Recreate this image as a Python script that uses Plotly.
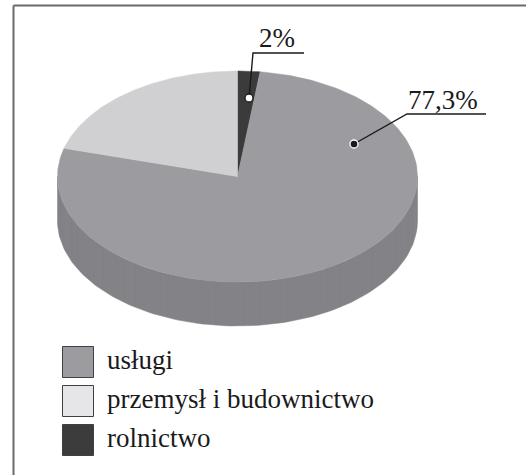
import numpy as np
import plotly.graph_objects as go

# ---- data ----
categories = ["usługi", "przemysł i budownictwo", "rolnictwo"]
values = [77.3, 20.7, 2.0]
label_texts = ["77,3%", None, "2%"]
# drawing order of slices, clockwise from 12 o'clock
slice_order = ["rolnictwo", "usługi", "przemysł i budownictwo"]

# ---- styles ----
top_colors = {"usługi": "#9c9ca0", "przemysł i budownictwo": "#d0d0d2", "rolnictwo": "#3b3b3b"}
side_colors = {"usługi": "#838387", "przemysł i budownictwo": "#b4b4b6", "rolnictwo": "#2c2c2c"}
legend_colors = {"usługi": "#9c9ca0", "przemysł i budownictwo": "#e6e6e8", "rolnictwo": "#3c3c3c"}

W, H = 526, 475
CX, CY, RX, RY, DEPTH = 237.5, 176.5, 180.0, 105.5, 44.0
FONT = "Liberation Serif, Times New Roman, serif"

fig = go.Figure()

def pt(a_deg, dy=0.0):
    a = np.radians(a_deg)
    return CX + RX * np.cos(a), CY - RY * np.sin(a) + dy

vals = dict(zip(categories, values))
total = sum(values)
start = 90.0
spans = {}
for c in slice_order:
    sweep = vals[c] / total * 360.0
    spans[c] = (start, start - sweep)
    start -= sweep

# side walls (only the front half is visible)
for c in slice_order:
    a0, a1 = spans[c]
    segs = []
    lo, hi = max(min(a0, a1), -180.0), min(max(a0, a1), 0.0)
    if hi > lo:
        segs.append((lo, hi))
    lo2, hi2 = max(min(a0, a1), 180.0), min(max(a0, a1), 360.0)
    if hi2 > lo2:
        segs.append((lo2, hi2))
    for lo_, hi_ in segs:
        angs = np.linspace(lo_, hi_, 120)
        xs_t, ys_t = pt(angs)
        xs_b, ys_b = pt(angs[::-1], DEPTH)
        fig.add_trace(go.Scatter(
            x=np.concatenate([xs_t, xs_b, xs_t[:1]]),
            y=np.concatenate([ys_t, ys_b, ys_t[:1]]),
            mode="lines", fill="toself", fillcolor=side_colors[c],
            line=dict(color=side_colors[c], width=0.5),
            hoverinfo="skip", showlegend=False))
        for k, a in enumerate(np.linspace(lo_, hi_, 40)[1:-1]):
            x0, y0 = pt(a)
            x1, y1 = pt(a, DEPTH)
            shade = "#8c8c90" if k % 3 == 0 else "#7c7c80"
            fig.add_trace(go.Scatter(x=[x0, x1], y=[y0, y1], mode="lines",
                                     line=dict(color=shade, width=0.6),
                                     opacity=0.35, hoverinfo="skip", showlegend=False))

# top face slices
for c in slice_order:
    a0, a1 = spans[c]
    angs = np.linspace(a0, a1, 200)
    xs, ys = pt(angs)
    fig.add_trace(go.Scatter(
        x=np.concatenate([[CX], xs, [CX]]),
        y=np.concatenate([[CY], ys, [CY]]),
        mode="lines", fill="toself", fillcolor=top_colors[c],
        line=dict(color=top_colors[c], width=0.5),
        hoverinfo="skip", showlegend=False))

# labels with leader lines
label_layout = {
    "rolnictwo": dict(dot=(249, 98), elbow=(253, 53), end=(304, 53), text=(257, 38), filled=False),
    "usługi": dict(dot=(354, 144), elbow=(407, 114), end=(486, 114), text=(406, 100), filled=True),
}
for c, txt in zip(categories, label_texts):
    if txt is None:
        continue
    L = label_layout[c]
    fig.add_trace(go.Scatter(
        x=[L["dot"][0], L["elbow"][0], L["end"][0]],
        y=[L["dot"][1], L["elbow"][1], L["end"][1]],
        mode="lines", line=dict(color="#1a1a1a", width=1.4),
        hoverinfo="skip", showlegend=False))
    fig.add_trace(go.Scatter(
        x=[L["dot"][0]], y=[L["dot"][1]], mode="markers",
        marker=dict(size=8, color="#1a1a1a" if L["filled"] else "white",
                    line=dict(color="white" if L["filled"] else "#1a1a1a", width=1.3)),
        hoverinfo="skip", showlegend=False))
    fig.add_annotation(x=L["text"][0], y=L["text"][1], text=txt, showarrow=False,
                       xanchor="left", yanchor="middle",
                       font=dict(family=FONT, size=27, color="#1a1a1a"))

# legend
LEG_X, LEG_Y0, LEG_DY = 78, 362, 39
for i, c in enumerate(categories):
    y = LEG_Y0 + i * LEG_DY
    fig.add_trace(go.Scatter(
        x=[LEG_X], y=[y], mode="markers",
        marker=dict(symbol="square", size=31, color=legend_colors[c],
                    line=dict(color="#404040", width=1)),
        hoverinfo="skip", showlegend=False))
    fig.add_annotation(x=105, y=y - 2, text=c, showarrow=False,
                       xanchor="left", yanchor="middle",
                       font=dict(family=FONT, size=27, color="#1a1a1a"))

# frame (top and left edges visible)
fig.add_shape(type="line", x0=13.5, y0=5.5, x1=W + 5, y1=5.5, line=dict(color="#6a6a6a", width=2))
fig.add_shape(type="line", x0=13.5, y0=5.5, x1=13.5, y1=H + 5, line=dict(color="#6a6a6a", width=2))

fig.update_layout(
    width=W, height=H, margin=dict(l=0, r=0, t=0, b=0),
    paper_bgcolor="white", plot_bgcolor="white",
    xaxis=dict(range=[0, W], visible=False, fixedrange=True),
    yaxis=dict(range=[H, 0], visible=False, fixedrange=True),
    showlegend=False,
)
fig.write_html(
    "out.html",
    config={"displayModeBar": False},
    post_script="document.body.style.margin='0px';document.body.style.overflow='hidden';",
)
